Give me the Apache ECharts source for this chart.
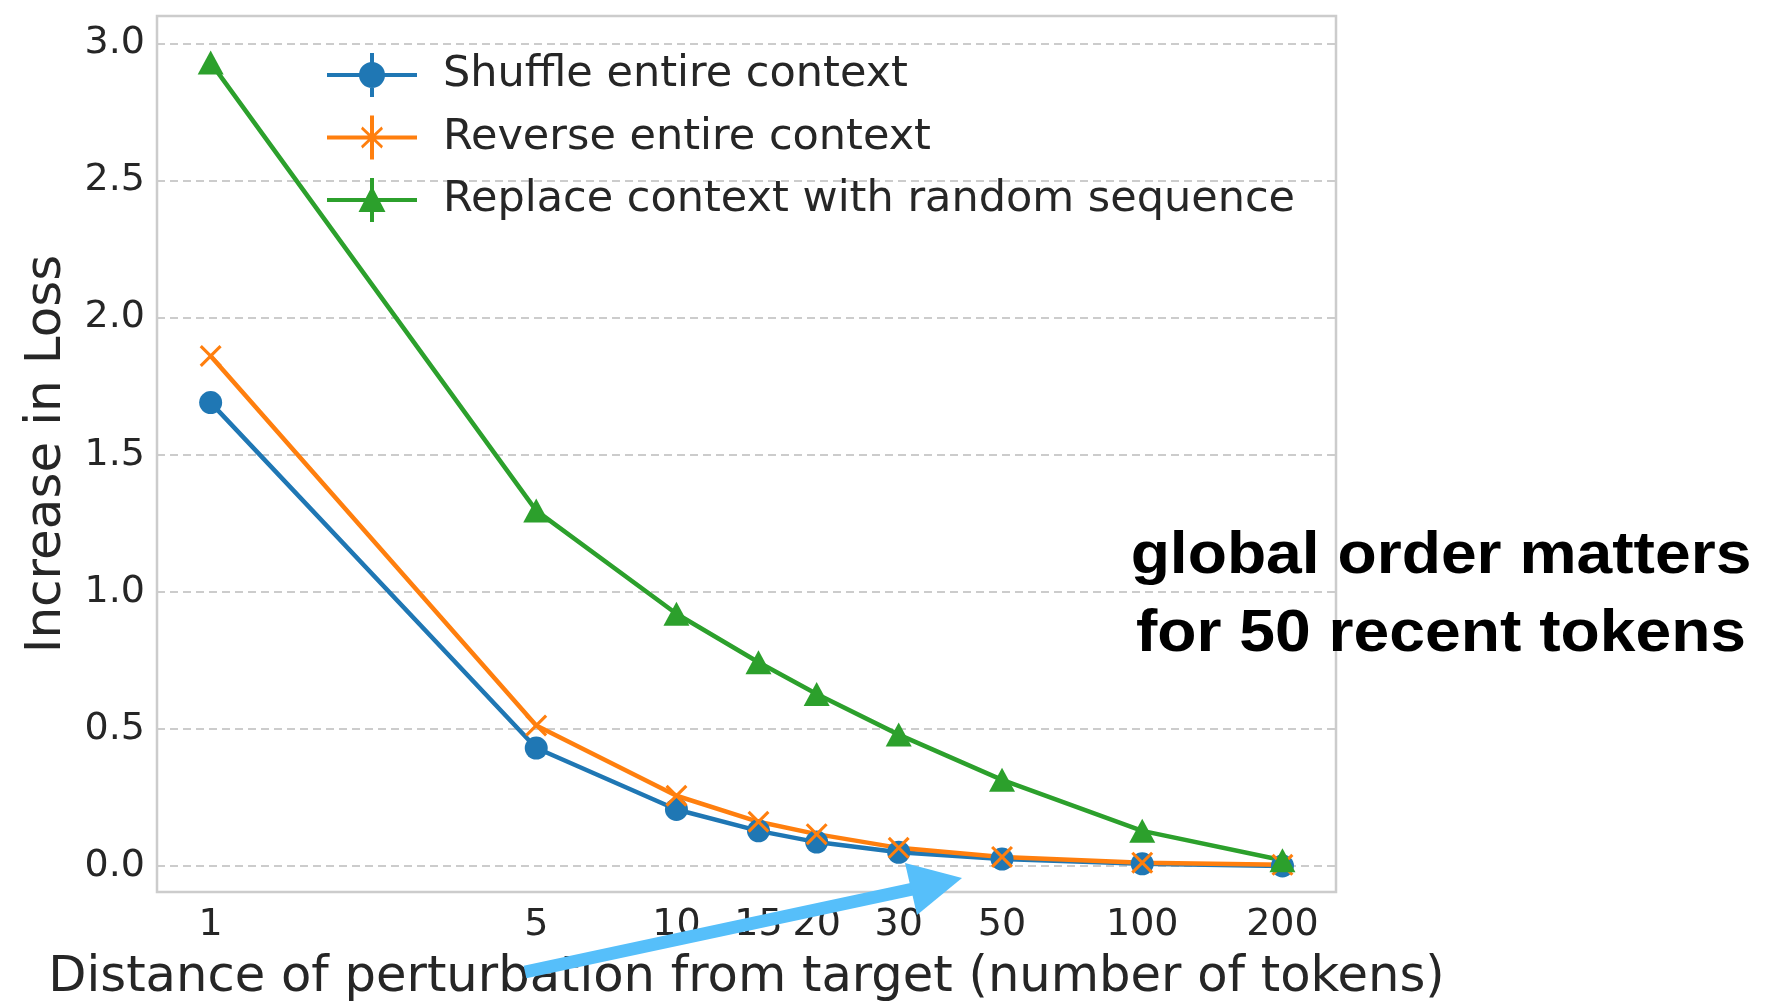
<!DOCTYPE html>
<html>
<head>
<meta charset="utf-8">
<style>
  html, body { margin: 0; padding: 0; background: #ffffff; }
  #chart { width: 1775px; height: 1002px; }
</style>
<script src="https://cdn.jsdelivr.net/npm/echarts@6/dist/echarts.min.js"></script>
</head>
<body>
<div id="chart"></div>
<script>
// ---- data ----
const xValues = [1, 5, 10, 15, 20, 30, 50, 100, 200];
const xTickLabels = [1, 5, 10, 15, 20, 30, 50, 100, 200];
const yTickValues = [0, 0.5, 1.0, 1.5, 2.0, 2.5, 3.0];
const seriesNames = ['Shuffle entire context', 'Reverse entire context', 'Replace context with random sequence'];
const shuffleLoss = [1.69, 0.43, 0.206, 0.128, 0.087, 0.05, 0.025, 0.008, 0.0];
const reverseLoss = [1.86, 0.512, 0.256, 0.161, 0.116, 0.066, 0.033, 0.012, 0.004];
const replaceLoss = [2.93, 1.296, 0.92, 0.743, 0.627, 0.479, 0.314, 0.128, 0.021];
const xAxisTitle = 'Distance of perturbation from target (number of tokens)';
const yAxisTitle = 'Increase in Loss';
const noteLines = ['global order matters', 'for 50 recent tokens'];

// ---- styles ----
const colors = ['#1f77b4', '#ff7f0e', '#2ca02c'];
const textColor = '#262626';
const font = 'DejaVu Sans';

// legend icons (errorbar style: horizontal + vertical bar + marker)
const bars = 'M0,20 L90,20 L90,24 L0,24 Z M43,0 L47,0 L47,44 L43,44 Z ';
const iconCircle = 'path://' + bars + 'M58,22 A13,13 0 1,1 32,22 A13,13 0 1,1 58,22 Z';
const iconX = 'path://' + bars + 'M34,13.5 L35.5,11 L56,30.5 L54.5,33 Z M54.5,11 L56,13.5 L35.5,33 L34,30.5 Z';
const iconTri = 'path://' + bars + 'M45,8 L58.5,34 L31.5,34 Z';
const xSymbol = 'path://M0,10 L10,0 L100,90 L90,100 Z M90,0 L100,10 L10,100 L0,90 Z';

function pairs(vals) { return xValues.map((x, i) => [x, vals[i]]); }

const chart = echarts.init(document.getElementById('chart'), null, { renderer: 'canvas' });

const noteFont = 'bold 60px "Liberation Sans", Arial, sans-serif';

const option = {
  backgroundColor: '#ffffff',
  animation: false,
  grid: {
    left: 157, top: 16, right: 439, bottom: 110,
    containLabel: false, outerBoundsMode: 'none',
    show: true, borderColor: '#cccccc', borderWidth: 2.5, backgroundColor: 'transparent'
  },
  legend: {
    orient: 'vertical',
    left: 322, top: 48,
    itemWidth: 90, itemHeight: 44, itemGap: 18.5,
    textStyle: { fontFamily: font, fontSize: 43, color: textColor, padding: [0, 0, 0, 21] },
    data: [
      { name: seriesNames[0], icon: iconCircle },
      { name: seriesNames[1], icon: iconX },
      { name: seriesNames[2], icon: iconTri }
    ]
  },
  xAxis: {
    type: 'log',
    logBase: 10,
    min: 0.767, max: 260.6,
    name: xAxisTitle,
    nameLocation: 'middle',
    nameGap: 61,
    nameTextStyle: { fontFamily: font, fontSize: 49.6, color: textColor },
    axisLine: { show: false },
    axisTick: { show: false, customValues: xTickLabels },
    splitLine: { show: false },
    minorSplitLine: { show: false },
    axisLabel: {
      customValues: xTickLabels,
      fontFamily: font, fontSize: 38, color: textColor, margin: 14,
      formatter: v => String(Math.round(v))
    }
  },
  yAxis: {
    type: 'value',
    min: -0.095, max: 3.1,
    name: yAxisTitle,
    nameLocation: 'middle',
    nameGap: 85,
    nameTextStyle: { fontFamily: font, fontSize: 50, color: textColor },
    axisLine: { show: false },
    axisTick: { show: false, customValues: yTickValues },
    splitLine: { show: true, lineStyle: { color: '#cccccc', width: 2, type: [8, 5] } },
    axisLabel: {
      customValues: yTickValues,
      fontFamily: font, fontSize: 38, color: textColor, margin: 12,
      formatter: v => v.toFixed(1)
    }
  },
  series: [
    {
      name: seriesNames[0], type: 'line', data: pairs(shuffleLoss),
      symbol: 'circle', symbolSize: 23, showAllSymbol: true,
      lineStyle: { color: colors[0], width: 4.5 },
      itemStyle: { color: colors[0] }
    },
    {
      name: seriesNames[1], type: 'line', data: pairs(reverseLoss),
      symbol: xSymbol, symbolSize: 22, showAllSymbol: true,
      lineStyle: { color: colors[1], width: 4.5 },
      itemStyle: { color: colors[1] }
    },
    {
      name: seriesNames[2], type: 'line', data: pairs(replaceLoss),
      symbol: 'triangle', symbolSize: [26, 24], showAllSymbol: true,
      lineStyle: { color: colors[2], width: 4.5 },
      itemStyle: { color: colors[2] }
    }
  ],
  graphic: [
    {
      type: 'text', z: 100,
      x: 1441, y: 556, scaleX: 1.07,
      style: {
        text: noteLines[0], fill: '#000000', font: noteFont,
        align: 'center', verticalAlign: 'middle'
      }
    },
    {
      type: 'text', z: 100,
      x: 1441, y: 634, scaleX: 1.07,
      style: {
        text: noteLines[1], fill: '#000000', font: noteFont,
        align: 'center', verticalAlign: 'middle'
      }
    },
    {
      type: 'line', z: 100,
      shape: { x1: 525, y1: 972, x2: 913, y2: 889 },
      style: { stroke: '#56bffa', lineWidth: 13, lineCap: 'butt' }
    },
    {
      type: 'polygon', z: 100,
      shape: { points: [[962, 878], [905, 863], [917, 915]] },
      style: { fill: '#56bffa' }
    }
  ]
};

chart.setOption(option);
</script>
</body>
</html>
